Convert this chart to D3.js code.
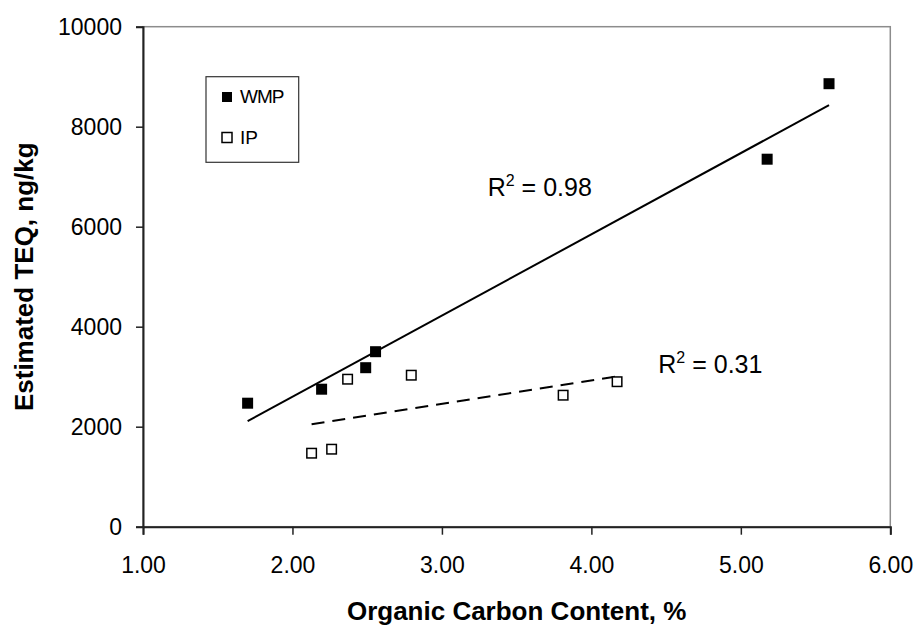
<!DOCTYPE html>
<html>
<head>
<meta charset="utf-8">
<script src="https://cdn.jsdelivr.net/npm/d3@7"></script>
<style>
  body { margin: 0; background: #fff; }
  text { font-family: "Liberation Sans", Arial, sans-serif; fill: #000; }
</style>
</head>
<body>
<svg id="chart" width="922" height="625"></svg>
<script>
// data
var wmpOC = [1.70, 2.195, 2.49, 2.556, 5.176, 5.59];
var wmpTEQ = [2470, 2750, 3180, 3500, 7350, 8860];
var ipOC = [2.128, 2.262, 2.369, 2.795, 3.811, 4.172];
var ipTEQ = [1470, 1550, 2950, 3030, 2630, 2900];
var xTicks = [1, 2, 3, 4, 5, 6];
var yTicks = [0, 2000, 4000, 6000, 8000, 10000];
var seriesNames = ["WMP", "IP"];
var r2Labels = ["0.98", "0.31"];

var svg = d3.select("#chart");
var margin = { top: 26.7, right: 31.7, bottom: 98.3, left: 143 };
var width = 922 - margin.left - margin.right,
  height = 625 - margin.top - margin.bottom;

var x = d3.scaleLinear().domain([1, 6]).range([0, width]);
var y = d3.scaleLinear().domain([0, 10000]).range([height, 0]);

var g = svg.append("g")
  .attr("transform", "translate(" + margin.left + "," + margin.top + ")");

// plot frame (top/right gray)
g.append("rect")
  .attr("x", 0).attr("y", 0)
  .attr("width", width).attr("height", height)
  .attr("fill", "none")
  .attr("stroke", "#8c8c8c")
  .attr("stroke-width", 1.5);

// axes
var xAxis = g.append("g")
  .attr("transform", "translate(0," + height + ")")
  .call(d3.axisBottom(x).tickValues(xTicks).tickSize(8).tickPadding(22)
    .tickFormat(d3.format(".2f")));
var yAxis = g.append("g")
  .call(d3.axisLeft(y).tickValues(yTicks).tickSize(7).tickPadding(14)
    .tickFormat(d3.format("d")));
[xAxis, yAxis].forEach(function (a) {
  a.select(".domain").attr("stroke", "#222").attr("stroke-width", 2);
  a.selectAll(".tick line").attr("stroke", "#222").attr("stroke-width", 1.5);
  a.selectAll("text").style("font-size", "23px")
    .style("font-family", "'Liberation Sans', Arial, sans-serif").attr("fill", "#000");
});

// linear fit from the data
function fit(xs, ys) {
  var mx = d3.mean(xs), my = d3.mean(ys);
  var sxy = d3.sum(xs, function (v, i) { return (v - mx) * (ys[i] - my); });
  var sxx = d3.sum(xs, function (v) { return (v - mx) * (v - mx); });
  var b = sxy / sxx;
  return function (v) { return my + b * (v - mx); };
}

function trend(xs, ys, dash) {
  var f = fit(xs, ys);
  var ends = d3.extent(xs);
  g.append("line")
    .attr("x1", x(ends[0])).attr("y1", y(f(ends[0])))
    .attr("x2", x(ends[1])).attr("y2", y(f(ends[1])))
    .attr("stroke", "#000")
    .attr("stroke-width", 2)
    .attr("stroke-dasharray", dash);
}
trend(wmpOC, wmpTEQ, null);
trend(ipOC, ipTEQ, "13,8");

// markers
var s = 11;
g.selectAll(".wmp")
  .data(wmpOC)
  .enter()
  .append("rect")
  .attr("class", "wmp")
  .attr("x", function (d) { return x(d) - s / 2; })
  .attr("y", function (d, i) { return y(wmpTEQ[i]) - s / 2; })
  .attr("width", s).attr("height", s)
  .attr("fill", "#000");

g.selectAll(".ip")
  .data(ipOC)
  .enter()
  .append("rect")
  .attr("class", "ip")
  .attr("x", function (d) { return x(d) - (s - 1.5) / 2; })
  .attr("y", function (d, i) { return y(ipTEQ[i]) - (s - 1.5) / 2; })
  .attr("width", s - 1.5).attr("height", s - 1.5)
  .attr("fill", "#fff")
  .attr("stroke", "#000")
  .attr("stroke-width", 1.5);

// R² labels
function r2(px, py, val) {
  var t = svg.append("text")
    .attr("x", px).attr("y", py)
    .style("font-size", "25px");
  t.append("tspan").text("R");
  t.append("tspan").attr("dy", -10).style("font-size", "16px").text("2");
  t.append("tspan").attr("dy", 10).text(" = " + val);
}
r2(487.7, 196, r2Labels[0]);
r2(658.3, 373.3, r2Labels[1]);

// legend
var lg = svg.append("g");
lg.append("rect")
  .attr("x", 206).attr("y", 76.7)
  .attr("width", 92.7).attr("height", 85.6)
  .attr("fill", "#fff")
  .attr("stroke", "#333")
  .attr("stroke-width", 1.2);
seriesNames.forEach(function (name, i) {
  var cy = 97 + i * 40.5;
  lg.append("rect")
    .attr("x", 222).attr("y", cy - 5)
    .attr("width", 10).attr("height", 10)
    .attr("fill", i === 0 ? "#000" : "#fff")
    .attr("stroke", "#000")
    .attr("stroke-width", i === 0 ? 0 : 1.5);
  lg.append("text")
    .attr("x", 240).attr("y", cy + 6)
    .style("font-size", "19px")
    .style("letter-spacing", i === 0 ? "-1px" : "0px")
    .text(name);
});

// axis titles
svg.append("text")
  .attr("x", margin.left + width / 2).attr("y", 620)
  .attr("text-anchor", "middle")
  .style("font-size", "26px").style("font-weight", "bold")
  .text("Organic Carbon Content, %");

svg.append("text")
  .attr("transform", "translate(33," + (margin.top + height / 2) + ") rotate(-90)")
  .attr("text-anchor", "middle")
  .style("font-size", "26px").style("font-weight", "bold")
  .text("Estimated TEQ, ng/kg");
</script>
</body>
</html>
